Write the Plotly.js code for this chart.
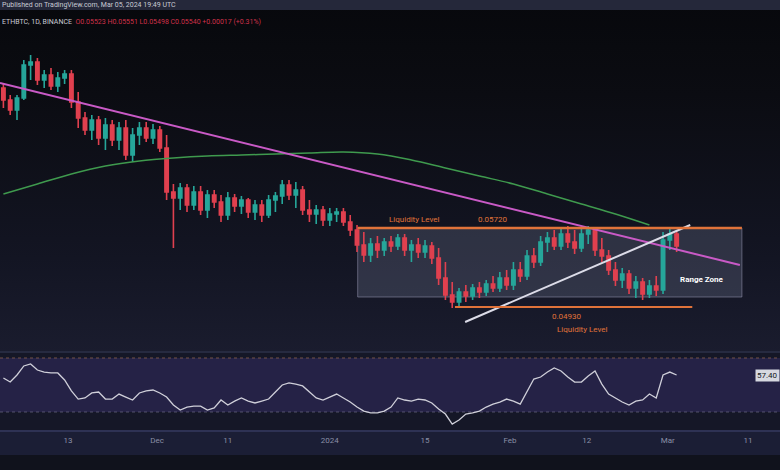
<!DOCTYPE html>
<html>
<head>
<meta charset="utf-8">
<script src="https://cdn.plot.ly/plotly-3.0.1.min.js"></script>
<style>
html,body{margin:0;padding:0;overflow:hidden;}
body{width:780px;height:470px;background:linear-gradient(to bottom,#07080c 0%,#0b0c12 20%,#131523 55%,#1a1c2e 75%,#1a1c2e 100%);}
#chart{width:780px;height:470px;}
</style>
</head>
<body>
<div id="chart"></div>
<script>
// ETH/BTC daily candles (price in units of 1e-5 BTC)
const candleIdx = Array.from({length:100},(_,i)=>i);
const openP  = [712,700,690,702,735,738,720,725,714,722, 726,698,682,670,680,662,675,660,672,645, 665,672,662,670,652,608,602,612,595,608, 590,605,598,585,602,594,600,588,595,585, 600,604,615,605,610,590,586,590,580,586, 588,578,570,555,545,556,550,558,554,562, 550,555,548,554,542,522,505,498,508,504, 512,508,516,512,522,515,530,524,544,538, 558,562,554,566,558,552,566,570,550,544, 530,520,526,512,518,506,514,510,560,566];
const highP  = [716,705,705,740,745,742,730,732,728,730, 730,708,688,685,684,682,680,678,680,672, 678,678,676,674,665,616,617,616,614,614, 610,610,605,608,606,604,602,600,600,605, 608,620,620,618,614,600,595,594,592,592, 592,585,575,568,562,564,562,564,566,566, 560,562,560,558,552,538,518,512,515,516, 518,520,524,528,530,538,538,550,552,564, 568,570,572,574,570,572,574,572,562,550, 538,532,530,524,522,520,524,568,572,570];
const lowP   = [692,685,680,700,720,715,712,710,708,716, 692,672,665,660,655,650,654,650,640,638, 655,658,656,648,600,552,590,588,590,585, 582,592,578,580,588,586,582,580,578,582, 588,596,600,592,585,578,576,574,574,578, 574,564,548,538,538,542,544,548,550,544, 538,542,542,536,515,500,492,494,498,500, 502,504,508,508,510,510,518,520,532,534, 548,550,550,552,546,548,556,544,538,525, 514,512,506,502,500,502,504,506,550,548];
const closeP = [700,690,702,735,738,720,725,714,722,726, 698,682,670,680,662,675,660,672,645,665, 672,662,670,652,608,602,612,595,608,590, 605,598,585,602,594,600,588,595,585,600, 604,615,605,610,590,586,590,580,586,588, 578,570,555,545,556,550,558,554,562,550, 555,548,554,542,522,505,498,508,504,512, 508,516,512,522,515,530,524,544,538,558, 562,554,566,558,552,566,570,550,544,530, 520,526,512,518,506,514,510,560,566,554];

// Moving average (green), sampled every 5 candles
const maIdx = [0,5,10,15,20,25,30,35,40,45,50,55,60,65,70,75,80,85,90,95];
const maVal = [606,616,626,634,639,642,644,645,646,647,648,646,640,632,624,616,606,596,586,575];

// RSI
const rsiVal = [55.2,52.2,57.4,64.1,65.6,61.1,59.6,58.9,58.9,53.7, 45.6,39.6,40.4,44.1,44.8,39.6,39.6,43.3,41.1,38.9, 44.1,45.6,46.3,44.1,41.1,35.2,31.5,33.7,34.4,34.4, 31.5,33.0,38.9,35.2,38.1,40.4,38.1,36.7,38.1,39.6, 44.8,50.0,51.5,50.7,49.3,44.8,40.4,38.9,41.1,43.3, 40.4,37.4,33.7,30.7,29.3,29.3,30.7,33.7,40.4,38.9, 38.1,39.6,38.9,36.7,32.2,28.5,21.1,24.1,28.5,29.3, 30.7,33.7,35.9,37.4,39.6,38.1,35.9,44.8,54.4,55.9, 59.6,62.6,60.4,55.9,52.2,52.2,56.7,60.4,50.7,43.3, 40.4,37.4,35.2,38.1,38.9,43.3,40.4,57.4,59.6,57.4];

// Drawings
const downTrend = {x:[-0.5,108.3], y:[717,535]};
const upTrend   = {x:[67.9,101], y:[478,575]};
const rangeBox  = {x0:52.1, x1:108.6, y0:503, y1:572};
const lowLevel  = {x0:66.4, x1:101.3, y:493};
const topLevelText = "0.05720";
const lowLevelText = "0.04930";

// X tick labels
const tickPos  = [9.5,22.6,33.0,48.0,62.0,74.5,85.8,97.7,109.5];
const tickText = ["13","Dec","11","2024","15","Feb","12","Mar","11"];

const H = 470;
const py = p => (H - p) / H; // pixel row -> paper fraction

const traces = [
  {type:'candlestick', x:candleIdx, open:openP, high:highP, low:lowP, close:closeP,
   xaxis:'x', yaxis:'y', hoverinfo:'skip', whiskerwidth:0,
   increasing:{line:{color:'#26a69a',width:1.6}, fillcolor:'#26a69a'},
   decreasing:{line:{color:'#e0404f',width:1.6}, fillcolor:'#e0404f'}, showlegend:false},
  {type:'scatter', mode:'lines', x:maIdx, y:maVal, xaxis:'x', yaxis:'y',
   line:{color:'#3f9a4e',width:1.5, shape:'spline'}, hoverinfo:'skip', showlegend:false},
  {type:'scatter', mode:'lines', x:downTrend.x, y:downTrend.y, xaxis:'x', yaxis:'y',
   line:{color:'#c95ac6',width:2}, hoverinfo:'skip', showlegend:false},
  {type:'scatter', mode:'lines', x:upTrend.x, y:upTrend.y, xaxis:'x', yaxis:'y',
   line:{color:'#dcdce8',width:2}, hoverinfo:'skip', showlegend:false},
  {type:'scatter', mode:'lines', x:candleIdx, y:rsiVal, xaxis:'x', yaxis:'y2',
   line:{color:'#cfcfd9',width:1.3}, hoverinfo:'skip', showlegend:false}
];

const shapes = [
  {type:'rect', xref:'paper', yref:'paper', x0:0, x1:1, y0:py(10), y1:1, fillcolor:'#25283a', line:{width:0}, layer:'below'},
  {type:'rect', xref:'paper', yref:'paper', x0:0, x1:1, y0:py(431), y1:py(352), fillcolor:'#151727', line:{width:0}, layer:'below'},
  {type:'rect', xref:'paper', yref:'y2', x0:0, x1:1, y0:30, y1:70, fillcolor:'rgba(70,55,130,0.35)', line:{width:0}, layer:'below'},
  {type:'line', xref:'paper', yref:'y2', x0:0, x1:1, y0:70, y1:70, line:{color:'rgba(190,130,90,0.55)',width:1,dash:'dot'}, layer:'below'},
  {type:'line', xref:'paper', yref:'y2', x0:0, x1:1, y0:30, y1:30, line:{color:'rgba(150,150,175,0.45)',width:1,dash:'dot'}, layer:'below'},
  {type:'line', xref:'paper', yref:'paper', x0:0, x1:1, y0:py(352), y1:py(352), line:{color:'#262a40',width:2}, layer:'below'},
  {type:'rect', xref:'paper', yref:'paper', x0:0, x1:1, y0:py(455), y1:py(431), fillcolor:'#1b1e35', line:{width:0}, layer:'below'},
  {type:'line', xref:'paper', yref:'paper', x0:0, x1:1, y0:py(431), y1:py(431), line:{color:'#2e3254',width:2}, layer:'below'},
  {type:'rect', xref:'paper', yref:'paper', x0:0, x1:1, y0:0, y1:py(455), fillcolor:'#10121c', line:{width:0}, layer:'below'},
  {type:'rect', xref:'x', yref:'y', x0:rangeBox.x0, x1:rangeBox.x1, y0:rangeBox.y0, y1:rangeBox.y1,
   fillcolor:'rgba(140,145,175,0.24)', line:{color:'rgba(150,150,175,0.55)',width:1}, layer:'below'},
  {type:'line', xref:'x', yref:'y', x0:rangeBox.x0, x1:rangeBox.x1, y0:rangeBox.y1, y1:rangeBox.y1,
   line:{color:'#e0733a',width:2.5}},
  {type:'line', xref:'x', yref:'y', x0:lowLevel.x0, x1:lowLevel.x1, y0:lowLevel.y, y1:lowLevel.y,
   line:{color:'#e0733a',width:2}}
];

const ann = (x,y,text,color,size,extra) => Object.assign({x, y, xref:'x', yref:'y', text, showarrow:false,
  font:{family:'Roboto, Arial, sans-serif', size, color}}, extra||{});

const annotations = [
  {xref:'paper', yref:'paper', x:0, y:py(5), xanchor:'left', yanchor:'middle', showarrow:false,
   text:'Published on TradingView.com, Mar 05, 2024 19:49 UTC', font:{family:'Roboto, Arial, sans-serif', size:7, color:'#c8cad4'}},
  {xref:'paper', yref:'paper', x:0, y:py(22), xanchor:'left', yanchor:'middle', showarrow:false,
   text:'ETHBTC, 1D, BINANCE  <span style="color:#d0314a">O0.05523 H0.05551 L0.05498 C0.05540 +0.00017 (+0.31%)</span>',
   font:{family:'Roboto, Arial, sans-serif', size:7, color:'#c8cad4'}},
  ann(60.5, 581, 'Liquidity Level', '#e0733a', 8),
  ann(72, 581, topLevelText, '#e0733a', 8),
  ann(82.9, 484, lowLevelText, '#e0733a', 8),
  ann(85.2, 471, 'Liquidity Level', '#e0733a', 8),
  ann(102.7, 521, '<b>Range Zone</b>', '#ffffff', 8),
  {xref:'paper', yref:'y2', x:1, y:rsiVal[rsiVal.length-1], xanchor:'right', yanchor:'middle', showarrow:false,
   text:'57.40', bgcolor:'#d6d8e0', font:{family:'Roboto, Arial, sans-serif', size:8, color:'#131722'}}
];

const layout = {
  width:780, height:470, margin:{l:0,r:0,t:0,b:0},
  paper_bgcolor:'rgba(0,0,0,0)', plot_bgcolor:'rgba(0,0,0,0)',
  showlegend:false, hovermode:false,
  xaxis:{range:[-0.5,114.2], anchor:'y2', showgrid:false, zeroline:false, showline:false,
         tickmode:'array', tickvals:tickPos, ticktext:tickText, ticks:'', ticklabelstandoff:4,
         tickfont:{family:'Roboto, Arial, sans-serif', size:8, color:'#8a8fa6'},
         rangeslider:{visible:false}, fixedrange:true},
  yaxis:{domain:[py(352), py(10)], range:[448,790], visible:false, showgrid:false, zeroline:false, fixedrange:true},
  yaxis2:{domain:[py(430), py(355)], range:[16.7,72.2], visible:false, showgrid:false, zeroline:false, fixedrange:true},
  shapes, annotations
};

Plotly.newPlot('chart', traces, layout, {displayModeBar:false, staticPlot:true});
</script>
</body>
</html>
